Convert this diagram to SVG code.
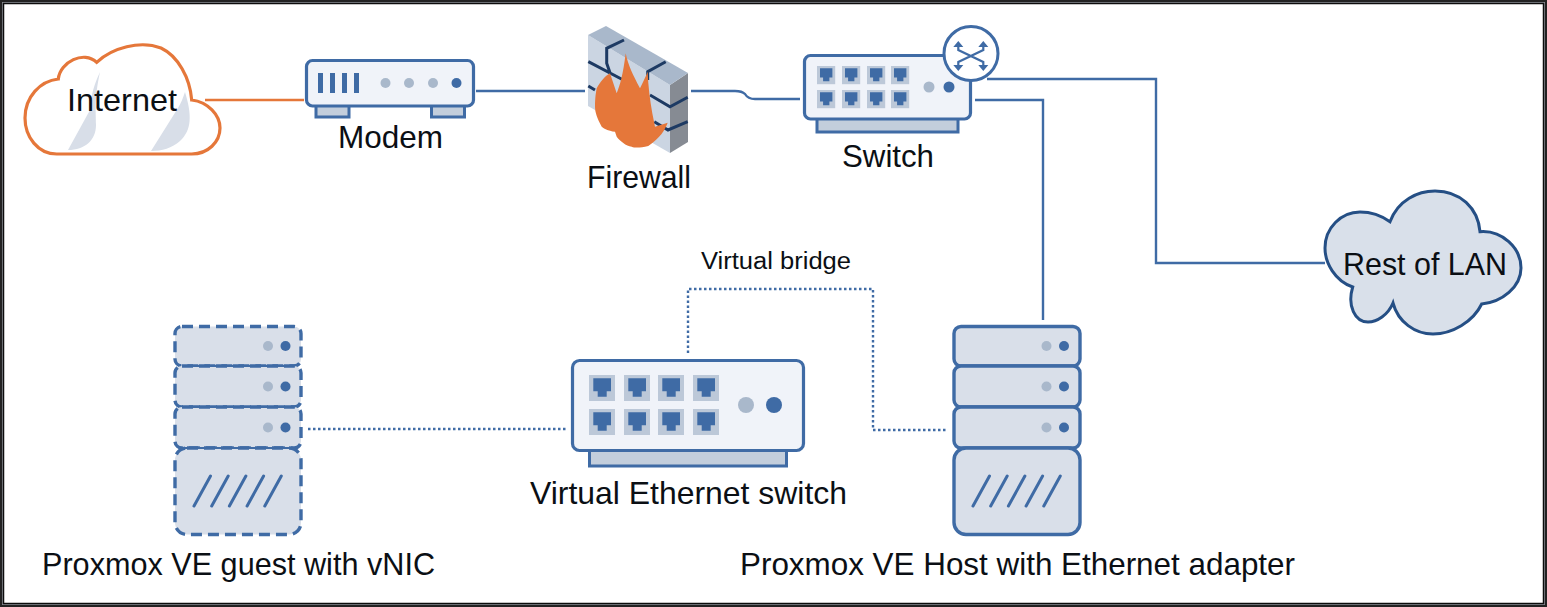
<svg xmlns="http://www.w3.org/2000/svg" width="1547" height="607" viewBox="0 0 1547 607">
<style>
text{font-family:"Liberation Sans",Arial,sans-serif;fill:#0b0f14}
.lbl{font-size:31.5px}
.box{fill:#f0f3f9;stroke:#3f6ba5;stroke-width:3.200}
.foot{fill:#c3cedc;stroke:#3f6ba5;stroke-width:3}
.srv{fill:#d9dfe9;stroke:#3f6ba5;stroke-width:3.400}
.dash{stroke-dasharray:11 6}
.sep{stroke:#3f6ba5;stroke-width:2;fill:none}
.lt{fill:#a9b8cb}
.dk{fill:#3f6ba5}
.sl{stroke:#3f6ba5;stroke-width:3;stroke-linecap:round;fill:none}
.ln{fill:none;stroke:#3f6ba5;stroke-width:2.400}
.dot{fill:none;stroke:#3f6ba5;stroke-width:2.400;stroke-dasharray:2.500 2.500}
.shade{fill:#d8dee8}
</style>
<defs>
<g id="port"><rect width="26" height="26" fill="#bcc8d8"/><path d="M4.300 3.300H22V16.300H17.700V21.700H8.700V16.300H4.300Z" fill="#3f6ba5"/></g>
<g id="slashes" class="sl"><path d="M0 30L16.500 0M17.700 30L34.200 0M35.400 30L51.900 0M53.100 30L69.600 0M70.800 30L87.300 0"/></g>
</defs>
<rect width="1547" height="607" fill="#fff"/>
<rect x="1" y="1" width="1545" height="605" fill="none" stroke="#222" stroke-width="2"/>
<rect x="2.500" y="2.500" width="1542" height="602" fill="none" stroke="#8b8f96" stroke-width="1"/>
<rect x="3.500" y="3.500" width="1540" height="600" fill="none" stroke="#0c0c0c" stroke-width="1.500"/>

<g id="connectors">
<path d="M205 100H304" fill="none" stroke="#e5773a" stroke-width="2.500"/>
<path class="ln" d="M476 91H585"/>
<path class="ln" d="M691 91H735Q742 91 745 94Q748 99 755 99H800"/>
<path class="ln" d="M987 79H1156V263H1325"/>
<path class="ln" d="M975 100H1043V320"/>
<path class="dot" d="M308 429H566"/>
<path class="dot" d="M688 353V289H873V430H948"/>
</g>

<g id="internet">
<path d="M58.300 79C60 62 84 50 96.700 62.300C112 48 140 40 161 48C178 56 190 78 191.700 100C208 102 220 115 220 128C220 142 208 154 191.700 154H56.700C38 154 25 137 25 118C25 97 40 81 58.300 79Z" fill="#fff" stroke="#e5773a" stroke-width="3.200"/>
<path class="shade" d="M100 72C94 85 91 95 90 110L68 150C85 150 96 140 96 125C96 110 94 100 100 72Z"/>
<path class="shade" d="M185 92C192 115 192 130 180 141C172 148 162 151 151 151L178 108C181 103 183 98 185 92Z"/>
<text class="lbl" x="67" y="111" textLength="110" lengthAdjust="spacingAndGlyphs">Internet</text>
</g>

<g id="modem">
<rect class="foot" x="316" y="105" width="33" height="12"/>
<rect class="foot" x="431.500" y="105" width="33" height="12"/>
<rect class="box" x="306.500" y="60.500" width="167" height="45.500" rx="6"/>
<g class="dk"><rect x="318" y="73" width="5" height="20"/><rect x="330" y="73" width="5" height="20"/><rect x="342" y="73" width="5" height="20"/><rect x="354" y="73" width="5" height="20"/></g>
<circle class="lt" cx="385.500" cy="83" r="5"/><circle class="lt" cx="409" cy="83" r="5"/><circle class="lt" cx="433" cy="83" r="5"/><circle class="dk" cx="456.500" cy="83" r="5"/>
<text class="lbl" x="338" y="148" textLength="105" lengthAdjust="spacingAndGlyphs">Modem</text>
</g>

<g id="firewall">
<path d="M588 35L670 85V153L588 106Z" fill="#cbd5e2"/>
<path d="M670 85L688 73V142L670 153Z" fill="#868b93"/>
<path d="M588 35L606 26L688 73L670 85Z" fill="#a9b8cb"/>
<path d="M624 40L606.700 48.300V63.300L610 72.700M588.300 61.700L623.300 80M588.300 86L595 90M665.700 61.700L647.700 71.700V80M650 95L670 106.700L687.700 97.300M654.300 121.700L668 130L687.700 121.700" fill="none" stroke="#1d3a63" stroke-width="3"/>
<path d="M625.700 53.300C628 65 633 75 640 88.300C643 82 646 76 647.700 71.700C648 85 650 100 652.300 113.300L655 126.700L667.700 122.700C665 130 660 138 648.300 146C640 148 635 148 631.700 146.700C626 146 620 141 616.700 136.700L615 131.700C608 131 603 128 601.700 126.700C597 118 595 112 595 106.700C595 98 596 92 596.700 88.300C600 82 605 76 610 73.300L616.700 93.300C620 85 623 75 625.700 53.300Z" fill="#e5773a"/>
<text class="lbl" x="587" y="188" textLength="104" lengthAdjust="spacingAndGlyphs">Firewall</text>
</g>

<g id="switch">
<rect class="foot" x="817" y="117" width="141" height="15"/>
<rect class="box" x="804.500" y="55.500" width="166" height="63.500" rx="6"/>
<g>
<use href="#port" transform="translate(817 66) scale(.7)"/><use href="#port" transform="translate(842 66) scale(.7)"/><use href="#port" transform="translate(867 66) scale(.7)"/><use href="#port" transform="translate(891 66) scale(.7)"/>
<use href="#port" transform="translate(817 90) scale(.7)"/><use href="#port" transform="translate(842 90) scale(.7)"/><use href="#port" transform="translate(867 90) scale(.7)"/><use href="#port" transform="translate(891 90) scale(.7)"/>
</g>
<circle class="lt" cx="929" cy="87" r="5.500"/><circle class="dk" cx="949" cy="87" r="5.500"/>
<circle cx="971" cy="53.500" r="27" fill="#fff" stroke="#3f6ba5" stroke-width="3"/>
<path d="M958.300 45V50L983.300 62V67M983.300 45V50L958.300 62V67" fill="none" stroke="#3f6ba5" stroke-width="2.200"/>
<path class="dk" d="M958.300 41L963.300 47H953.300ZM983.300 41L988.300 47H978.300ZM958.300 71L963.300 65H953.300ZM983.300 71L988.300 65H978.300Z"/>
<text class="lbl" x="842" y="167" textLength="92" lengthAdjust="spacingAndGlyphs">Switch</text>
</g>

<g id="rest-of-lan">
<path d="M1390 221.700C1398 200 1418 191 1435 191C1460 191 1478 208 1480 231.700C1502 230 1521 248 1521 268C1521 287 1502 302 1481.700 304C1473 322 1452 334 1433 334C1415 334 1398 322 1393 303C1388 315 1377 322 1368 322C1355 322 1347 306 1352.700 287C1335 281 1325 263 1325 248C1325 228 1341 212 1360 212C1371 212 1382 216 1390 221.700Z" fill="#d9e0ea" stroke="#254f85" stroke-width="3"/>
<text class="lbl" x="1343" y="275" textLength="164" lengthAdjust="spacingAndGlyphs">Rest of LAN</text>
</g>

<text x="701" y="269" font-size="23.500" textLength="150" lengthAdjust="spacingAndGlyphs">Virtual bridge</text>

<g id="virtual-switch">
<rect class="foot" x="589.500" y="448" width="197" height="18"/>
<rect class="box" x="572.500" y="360.500" width="231" height="90" rx="7"/>
<use href="#port" x="589" y="375"/><use href="#port" x="624" y="375"/><use href="#port" x="658" y="375"/><use href="#port" x="693" y="375"/>
<use href="#port" x="589" y="409"/><use href="#port" x="624" y="409"/><use href="#port" x="658" y="409"/><use href="#port" x="693" y="409"/>
<circle class="lt" cx="746" cy="405" r="8"/><circle class="dk" cx="774" cy="405" r="8"/>
<text class="lbl" x="530" y="504" textLength="317" lengthAdjust="spacingAndGlyphs">Virtual Ethernet switch</text>
</g>

<g id="guest">
<rect class="srv dash" x="175" y="326.500" width="126" height="39.500" rx="7"/>
<rect class="srv dash" x="175" y="366" width="126" height="41" rx="7"/>
<rect class="srv dash" x="175" y="407" width="126" height="41" rx="7"/>
<rect class="srv dash" x="175" y="448" width="126" height="86.500" rx="12"/>
<path class="sep" d="M182 366H294M182 407H294M182 448H294"/>
<circle class="lt" cx="268" cy="346" r="5"/><circle class="dk" cx="285.500" cy="346" r="5"/>
<circle class="lt" cx="268" cy="386.500" r="5"/><circle class="dk" cx="285.500" cy="386.500" r="5"/>
<circle class="lt" cx="268" cy="427.500" r="5"/><circle class="dk" cx="285.500" cy="427.500" r="5"/>
<use href="#slashes" x="194" y="476"/>
<text class="lbl" x="42" y="575" textLength="393" lengthAdjust="spacingAndGlyphs">Proxmox VE guest with vNIC</text>
</g>

<g id="host">
<rect class="srv" x="954" y="326.500" width="126" height="39.500" rx="7"/>
<rect class="srv" x="954" y="366" width="126" height="41" rx="7"/>
<rect class="srv" x="954" y="407" width="126" height="41" rx="7"/>
<rect class="srv" x="954" y="448" width="126" height="86.500" rx="12"/>
<circle class="lt" cx="1046.500" cy="346" r="5"/><circle class="dk" cx="1064" cy="346" r="5"/>
<circle class="lt" cx="1046.500" cy="386.500" r="5"/><circle class="dk" cx="1064" cy="386.500" r="5"/>
<circle class="lt" cx="1046.500" cy="427.500" r="5"/><circle class="dk" cx="1064" cy="427.500" r="5"/>
<use href="#slashes" x="973" y="476"/>
<text class="lbl" x="740" y="575" textLength="555" lengthAdjust="spacingAndGlyphs">Proxmox VE Host with Ethernet adapter</text>
</g>
</svg>
